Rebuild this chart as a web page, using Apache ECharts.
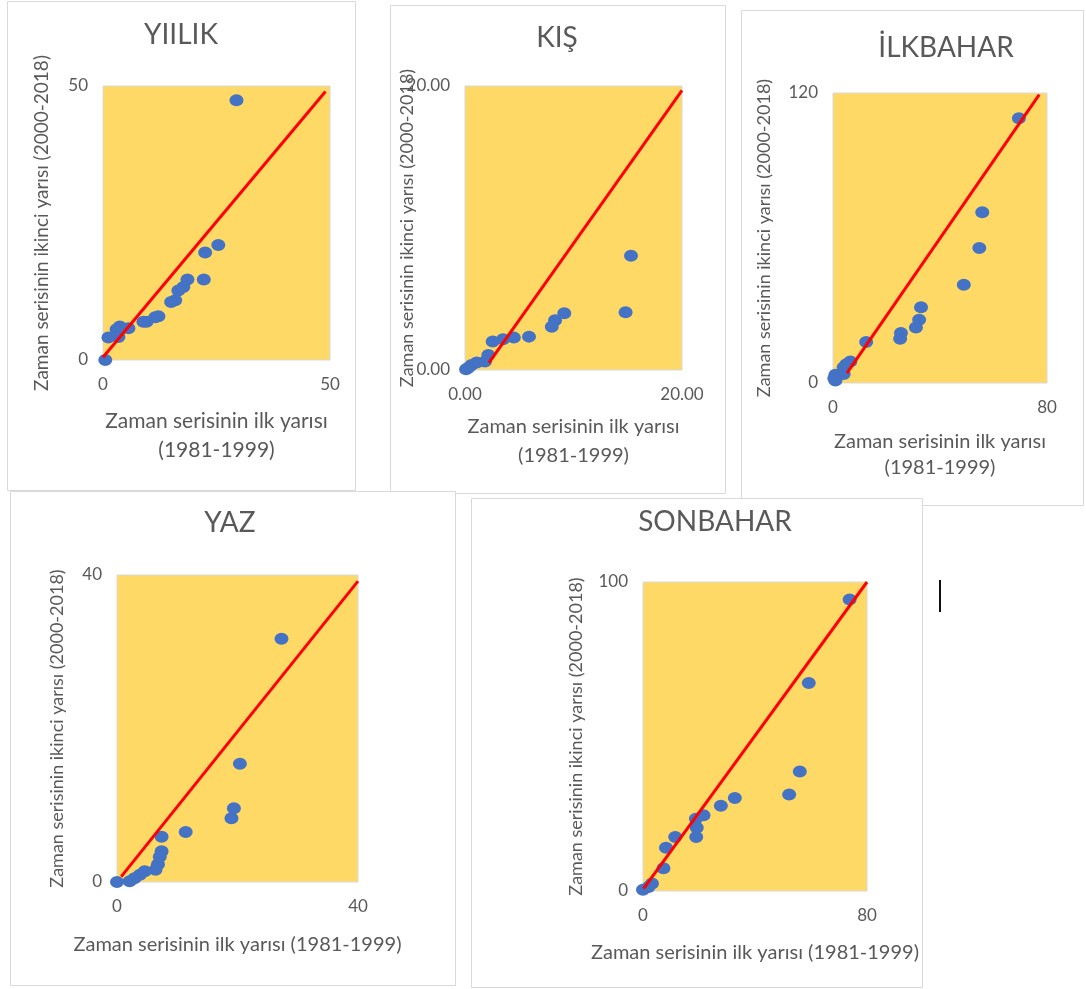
<!DOCTYPE html>
<html>
<head>
<meta charset="utf-8">
<script src="https://cdn.jsdelivr.net/npm/echarts@6/dist/echarts.min.js"></script>
<style>html,body{margin:0;background:#fff}</style>
</head>
<body>
<div id="main" style="width:1086px;height:989px"></div>
<script>
// panel titles
var titles = ['YIILIK', 'KIŞ', 'İLKBAHAR', 'YAZ', 'SONBAHAR'];
var xName2 = 'Zaman serisinin ilk yarısı\n(1981-1999)';
var xName1 = 'Zaman serisinin ilk yarısı (1981-1999)';
var yName = 'Zaman serisinin ikinci yarısı (2000-2018)';

// axis maximums (min is 0 everywhere)
var xMax = [50, 20, 80, 40, 80];
var yMax = [50, 20, 120, 40, 100];

// YIILIK
var yillikX = [29.4, 25.4, 22.5, 22.2, 18.6, 17.7, 16.6, 15.9, 15.0, 12.2, 11.5, 9.6, 8.9, 5.6, 3.7, 3.0, 3.4, 1.2, 0.5];
var yillikY = [47.4, 21.0, 19.6, 14.7, 14.7, 13.3, 12.7, 10.9, 10.6, 8.0, 7.8, 7.0, 7.0, 5.8, 6.1, 5.6, 4.2, 4.1, 0];
var yillikLine = [[0, 0.5], [49, 49]];

// KIŞ
var kisX = [15.3, 14.8, 9.15, 8.3, 8.0, 5.9, 4.5, 3.5, 2.55, 2.15, 1.84, 1.08, 0.6, 0.3, 0.1];
var kisY = [8.05, 4.06, 3.99, 3.5, 3.05, 2.35, 2.28, 2.16, 2.0, 1.06, 0.59, 0.52, 0.35, 0.15, 0.05];
var kisLine = [[2.2, 0.5], [20, 19.7]];

// İLKBAHAR
var ilkbaharX = [69.5, 55.8, 54.7, 48.9, 32.9, 32.2, 31.0, 25.4, 25.1, 12.4, 6.5, 5.0, 4.0, 4.0, 0.9, 0.9, 0.5];
var ilkbaharY = [109.6, 70.7, 55.9, 40.7, 31.3, 26.2, 23.0, 20.7, 18.3, 17.0, 8.9, 7.8, 6.5, 3.7, 3.4, 1.0, 2.0];
var ilkbaharLine = [[5.2, 4.1], [77.1, 119.3]];

// YAZ
var yazX = [27.3, 20.4, 19.4, 19.0, 11.4, 7.4, 7.4, 7.1, 6.8, 6.4, 4.6, 3.8, 2.9, 2.1, 0];
var yazY = [31.7, 15.4, 9.6, 8.3, 6.5, 5.9, 4.0, 3.3, 2.3, 1.6, 1.4, 0.95, 0.5, 0.1, 0];
var yazLine = [[0.7, 0.7], [40, 39.2]];

// SONBAHAR
var sonbaharX = [73.8, 59.2, 56.0, 52.2, 32.8, 27.8, 21.6, 18.9, 19.2, 19.0, 11.5, 8.2, 7.3, 3.2, 2.0, 0];
var sonbaharY = [94.3, 67.3, 38.7, 31.2, 30.1, 27.6, 24.5, 23.4, 20.5, 17.5, 17.5, 14.0, 7.4, 2.4, 1.3, 0.4];
var sonbaharLine = [[0.2, 0.8], [80, 100]];

var pointsX = [yillikX, kisX, ilkbaharX, yazX, sonbaharX];
var pointsY = [yillikY, kisY, ilkbaharY, yazY, sonbaharY];
var lines = [yillikLine, kisLine, ilkbaharLine, yazLine, sonbaharLine];

// layout of each panel
var boxes = [[7, 1, 348, 489], [390, 5, 335, 488], [741, 10, 342, 495], [10, 491, 445, 494], [471, 498, 451, 489]];
var grids = [[103, 86, 227, 274], [465, 86, 217, 284], [833, 93, 214, 290], [117, 575, 241, 307], [643, 582, 224, 309]];
var titlePos = [[181, 21], [557, 24], [946, 34], [230, 509], [715, 508]];
var xGap = [47, 42, 46, 48, 47];
var yGap = [52, 49, 60, 51, 58];
var xNameSize = [21, 20, 20, 20, 20];
var yNameSize = [19, 18, 18, 18, 18];

var gray = '#595959';
var option = {
	animation: false,
	textStyle: { fontFamily: 'Lato' },
	title: [],
	grid: [],
	xAxis: [],
	yAxis: [],
	series: [],
	graphic: []
};

for (var i = 0; i < 5; i++) {
	option.graphic.push({
		type: 'rect', z: -10 + i,
		shape: { x: boxes[i][0] + 0.5, y: boxes[i][1] + 0.5, width: boxes[i][2], height: boxes[i][3] },
		style: { fill: '#fff', stroke: '#d9d9d9', lineWidth: 1 }
	});
	option.title.push({
		text: titles[i], left: titlePos[i][0], top: titlePos[i][1], padding: 0, textAlign: 'center',
		textStyle: { fontFamily: 'Lato', fontSize: 28, fontWeight: 'normal', color: gray }
	});
	option.grid.push({
		left: grids[i][0], top: grids[i][1], width: grids[i][2], height: grids[i][3],
		show: true, backgroundColor: '#FFD966', borderColor: '#d9d9d9', borderWidth: 1
	});
	var dec = i == 1 ? 2 : 0;
	var small = i >= 3;
	option.xAxis.push({
		type: 'value', gridIndex: i, min: 0, max: xMax[i], interval: xMax[i],
		name: small ? xName1 : xName2, nameLocation: 'middle', nameGap: xGap[i], nameMoveOverlap: false,
		nameTextStyle: { fontSize: xNameSize[i], lineHeight: i == 2 ? 26 : 29, color: gray },
		axisLine: { show: false }, axisTick: { show: false }, splitLine: { show: false },
		axisLabel: { fontSize: 17, color: gray, margin: 16, formatter: (function (d) { return function (v) { return v.toFixed(d); }; })(dec) }
	});
	option.yAxis.push({
		type: 'value', gridIndex: i, min: 0, max: yMax[i], interval: yMax[i],
		name: yName, nameLocation: 'middle', nameGap: yGap[i], nameMoveOverlap: false,
		nameTextStyle: { fontSize: yNameSize[i], color: gray },
		axisLine: { show: false }, axisTick: { show: false }, splitLine: { show: false },
		axisLabel: { fontSize: 17, color: gray, margin: 15, formatter: (function (d) { return function (v) { return v.toFixed(d); }; })(dec) }
	});
	var pts = [];
	for (var j = 0; j < pointsX[i].length; j++) pts.push([pointsX[i][j], pointsY[i][j]]);
	option.series.push({
		type: 'scatter', xAxisIndex: i, yAxisIndex: i, data: pts, clip: false,
		symbolSize: [14, 12], itemStyle: { color: '#4472C4', opacity: 1 }, z: 2
	});
	option.series.push({
		type: 'line', xAxisIndex: i, yAxisIndex: i, data: lines[i], showSymbol: false,
		lineStyle: { color: '#FF0000', width: 3 }, z: 3
	});
}

// the stray cursor mark on the right
option.graphic.push({ type: 'rect', shape: { x: 939, y: 580, width: 2, height: 32 }, style: { fill: '#111' } });

var chart = echarts.init(document.getElementById('main'));
chart.setOption(option);
</script>
</body>
</html>
